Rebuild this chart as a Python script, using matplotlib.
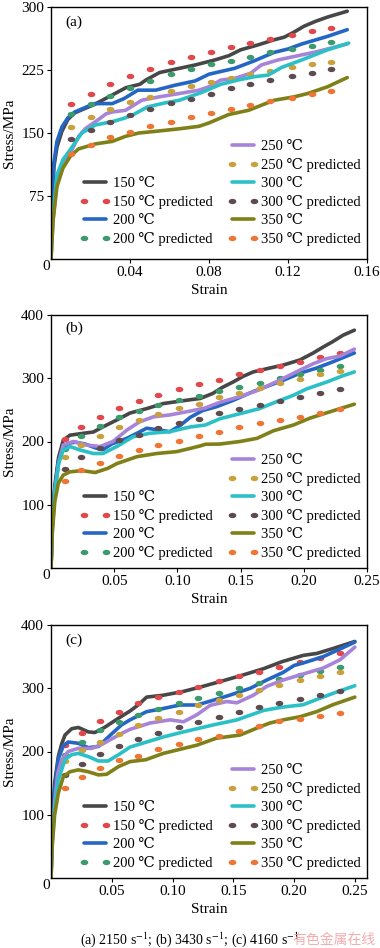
import matplotlib
matplotlib.use('Agg')
import matplotlib.pyplot as plt
from matplotlib.path import Path
from matplotlib.transforms import Affine2D

plt.rcParams['font.family'] = ['Liberation Serif', 'DejaVu Serif']
plt.rcParams['mathtext.fontset'] = 'stix'

TEMPS = ['150', '200', '250', '300', '350']
EXP_COLORS = ['#474747', '#2466c4', '#a784d8', '#2bc0c6', '#808018']
PRED_COLORS = ['#e0484b', '#3b9b6d', '#c9a13c', '#5d4b4f', '#ef7535']

# (a) 2150 s-1 : measured curves
a150_eps = [0, 0.0005, 0.0015, 0.003, 0.0055, 0.0085, 0.012, 0.017, 0.022, 0.03, 0.038, 0.045, 0.048,
            0.055, 0.065, 0.073, 0.083, 0.09, 0.096, 0.105, 0.113, 0.118, 0.123, 0.128, 0.134, 0.14, 0.15]
a150_sig = [0, 70, 110, 133, 152, 166, 174, 179, 184, 194, 204, 208, 213,
            222, 227, 231, 237, 242, 249, 255, 261, 264, 270, 277, 283, 288, 295]
a200_eps = [0, 0.0005, 0.0015, 0.003, 0.0055, 0.0085, 0.012, 0.017, 0.022, 0.031, 0.037, 0.044, 0.053,
            0.063, 0.073, 0.08, 0.093, 0.103, 0.113, 0.12, 0.127, 0.14, 0.15]
a200_sig = [0, 75, 115, 140, 157, 168, 175, 180, 185, 185, 191, 201, 201,
            207, 212, 220, 227, 236, 246, 250, 256, 265, 273]
a250_eps = [0, 0.001, 0.003, 0.006, 0.0097, 0.014, 0.0173, 0.024, 0.028, 0.031, 0.0377, 0.046, 0.0547,
            0.065, 0.075, 0.08, 0.086, 0.093, 0.101, 0.1065, 0.115, 0.127, 0.135, 0.15]
a250_sig = [0, 45, 92, 112, 126, 146, 155, 166, 173, 175, 177, 189, 193,
            197, 201, 205, 213, 215, 221, 231, 237, 243, 247, 256]
a300_eps = [0, 0.001, 0.003, 0.006, 0.0097, 0.0156, 0.0224, 0.031, 0.037, 0.041, 0.0488, 0.058, 0.065,
            0.076, 0.086, 0.0946, 0.103, 0.11, 0.1167, 0.127, 0.14, 0.1507]
a300_sig = [0, 50, 100, 118, 130, 150, 159.5, 163.5, 167.5, 171, 181, 186, 189,
            198, 208, 213, 217, 219, 228, 237, 249, 257]
a350_eps = [0, 0.001, 0.003, 0.006, 0.0097, 0.0139, 0.0224, 0.031, 0.0377, 0.0445, 0.053, 0.065, 0.075,
            0.08, 0.09, 0.1, 0.113, 0.123, 0.13, 0.14, 0.15]
a350_sig = [0, 45, 86, 108, 122, 131, 137, 140, 146, 150, 152, 155, 158,
            162, 172, 177, 189, 193, 197, 205, 216]

# (a) predicted points
a_pred_eps = [0.010, 0.020, 0.030, 0.040, 0.050, 0.061, 0.071, 0.081, 0.091, 0.101, 0.111, 0.122, 0.132, 0.142]
a_p150 = [184, 196, 208, 218, 226, 234, 240, 246, 252, 257, 262, 267, 271, 275]
a_p200 = [172.6, 184.5, 194, 204, 212, 220, 226, 232, 236, 241, 246, 250, 254, 258]
a_p250 = [157.5, 169, 178, 186.5, 193, 200, 206, 211, 216, 220, 224, 228, 232, 235]
a_p300 = [142.5, 154, 163.5, 171.5, 179, 186, 191, 197, 203, 208, 213, 218, 222, 226]
a_p350 = [125, 136, 145, 151.5, 158, 163.5, 169.5, 174, 179, 183, 188, 192, 196, 200]

# (b) 3430 s-1 : measured curves
b150_eps = [0, 0.001, 0.003, 0.006, 0.0097, 0.015, 0.0256, 0.0335, 0.041, 0.052, 0.0625, 0.0757, 0.0888,
            0.0994, 0.11, 0.118, 0.128, 0.136, 0.144, 0.152, 0.16, 0.1706, 0.184, 0.197, 0.2075, 0.215,
            0.223, 0.231, 0.24]
b150_sig = [0, 70, 130, 175, 202, 210, 213, 215, 223, 234, 245, 252, 260,
            263, 266, 268, 276, 286, 294, 303, 310, 315, 321, 329, 340, 349,
            358, 368, 376]
b200_eps = [0, 0.001, 0.003, 0.006, 0.0097, 0.0137, 0.019, 0.027, 0.035, 0.041, 0.048, 0.06, 0.069,
            0.0757, 0.086, 0.094, 0.102, 0.11, 0.12, 0.131, 0.144, 0.16, 0.1706, 0.184, 0.197, 0.21,
            0.223, 0.24]
b200_sig = [0, 65, 125, 170, 190, 197, 199, 196, 190, 187, 196, 205, 214,
            221, 218, 215.5, 225, 238, 249, 255, 265, 279, 287, 297, 308, 316,
            326, 340]
b250_eps = [0, 0.001, 0.003, 0.006, 0.0097, 0.0176, 0.028, 0.0388, 0.049, 0.06, 0.07, 0.081, 0.094,
            0.11, 0.122, 0.1337, 0.1495, 0.165, 0.181, 0.197, 0.2075, 0.218, 0.2286, 0.24]
b250_sig = [0, 60, 120, 165, 194.5, 200, 194.5, 192, 200, 218, 231, 239, 242,
            248, 253, 262, 271, 282, 297, 313, 323, 331, 335, 346]
b300_eps = [0, 0.001, 0.003, 0.006, 0.0097, 0.015, 0.023, 0.0335, 0.041, 0.052, 0.065, 0.078, 0.094,
            0.11, 0.122, 0.1337, 0.1495, 0.165, 0.1785, 0.1917, 0.202, 0.218, 0.231, 0.24]
b300_sig = [0, 60, 120, 165, 186.6, 192, 186.6, 181, 181, 192, 207.5, 213, 215.5,
            223, 226, 236, 244, 252, 263, 273, 283, 294, 304, 310]
b350_eps = [0, 0.001, 0.003, 0.0058, 0.0097, 0.015, 0.0243, 0.035, 0.045, 0.052, 0.068, 0.0836, 0.0994,
            0.11, 0.118, 0.122, 0.1337, 0.1495, 0.163, 0.176, 0.1917, 0.205, 0.2207, 0.24]
b350_sig = [0, 55, 105, 134, 147, 152, 154, 151, 157.6, 165, 176, 181, 184,
            189, 193, 195.6, 196, 200, 205, 217, 226, 237, 247, 259]

# (b) predicted points
b_pred_eps = [0.011, 0.024, 0.039, 0.054, 0.070, 0.085, 0.101, 0.117, 0.133, 0.149, 0.165, 0.181, 0.197, 0.213, 0.229]
b_p150 = [203.5, 222.5, 238, 252.5, 264.5, 273.5, 282.5, 291, 298, 306.5, 313, 319.5, 326, 333, 339.5]
b_p200 = [188, 208.7, 224.5, 239, 248.7, 257.7, 265.6, 272, 280, 286.7, 293, 300, 306.7, 313, 319.4]
b_p250 = [175, 194, 208.7, 222.5, 234, 243.5, 252.5, 259, 270, 277, 284, 292, 299, 306, 312]
b_p300 = [156, 176, 190, 202, 210, 221, 229, 235, 244.6, 251.4, 257.7, 264.5, 270.8, 277, 283]
b_p350 = [138, 155, 166.5, 177.6, 186.6, 194.5, 201, 208.7, 215.5, 222.5, 228.8, 234, 239, 244.6, 251]

# (c) 4160 s-1 : measured curves
c150_eps = [0, 0.001, 0.003, 0.006, 0.0088, 0.0115, 0.017, 0.0225, 0.0307, 0.036, 0.044, 0.055, 0.065,
            0.072, 0.0787, 0.0924, 0.109, 0.125, 0.1418, 0.158, 0.175, 0.19, 0.2076, 0.2186, 0.2323, 0.25]
c150_sig = [0, 80, 150, 192, 212, 226, 236, 238, 231, 230, 238, 252, 264,
            274, 286, 289, 295, 303, 312, 321, 331, 342, 352, 355, 363, 374]
c200_eps = [0, 0.001, 0.003, 0.006, 0.0101, 0.0142, 0.0225, 0.0307, 0.039, 0.05, 0.058, 0.065, 0.0787,
            0.0924, 0.106, 0.12, 0.1335, 0.147, 0.164, 0.1775, 0.191, 0.2, 0.2076, 0.224, 0.2378, 0.25]
c200_sig = [0, 75, 140, 188, 209, 215, 213, 206, 208, 228, 242, 250, 263,
            268, 273.5, 273.5, 281, 289, 300, 313, 325, 336, 340, 350, 362, 373]
c250_eps = [0, 0.001, 0.003, 0.0055, 0.0088, 0.0142, 0.0225, 0.0335, 0.0417, 0.05, 0.0576, 0.065, 0.0815,
            0.098, 0.109, 0.12, 0.131, 0.1446, 0.153, 0.1665, 0.1775, 0.191, 0.21, 0.224, 0.2378, 0.25]
c250_sig = [0, 60, 120, 165, 187, 200, 205, 205, 211, 220, 228, 235, 245,
            250, 247, 258, 273, 279, 277, 289, 303, 313, 324, 332, 345, 365]
c300_eps = [0, 0.001, 0.003, 0.006, 0.0115, 0.017, 0.0225, 0.0307, 0.039, 0.047, 0.0565, 0.065, 0.0924,
            0.109, 0.1335, 0.153, 0.175, 0.19, 0.2076, 0.221, 0.235, 0.25]
c300_sig = [0, 55, 110, 155, 187, 195, 197, 192, 185, 185, 196, 207, 223,
            231, 242, 250, 265, 270, 274, 284, 294, 304]
c350_eps = [0, 0.001, 0.003, 0.006, 0.0101, 0.0156, 0.0225, 0.0307, 0.039, 0.0458, 0.0554, 0.065, 0.078,
            0.0924, 0.12, 0.136, 0.1555, 0.172, 0.18, 0.191, 0.2049, 0.2186, 0.232, 0.25]
c350_sig = [0, 50, 100, 134, 160, 168, 171, 168, 163, 164, 176, 184, 187,
            197, 210, 221, 226, 239, 245, 250, 255, 263, 274, 286]

# (c) predicted points
c_pred_eps = [0.0115, 0.0253, 0.0403, 0.056, 0.0718, 0.0883, 0.105, 0.121, 0.1385, 0.155, 0.171, 0.188, 0.205, 0.221, 0.238]
c_p150 = [210, 230, 248, 263, 276, 286.6, 294.5, 302.5, 311.5, 319.4, 326, 334, 341, 348, 356]
c_p200 = [195, 215.5, 234, 247, 257.7, 266.7, 276, 284, 292, 300, 308, 314, 321, 328, 334]
c_p250 = [185, 202, 215.5, 228, 242, 252.5, 263, 273.5, 281.4, 289, 297, 305, 313, 319.4, 326]
c_p300 = [163, 181, 196, 208.7, 219.8, 229.7, 238, 247, 255, 263, 270, 277, 283.5, 290, 296]
c_p350 = [142, 160, 174.4, 186.6, 193, 203.5, 211.4, 219, 224.5, 232.4, 240, 248, 252, 256, 261]

# flattened ellipse used for the predicted points
DOT = Path.unit_circle().transformed(Affine2D().scale(1.0, 0.7))


def panel(ax, exp, pred_eps, pred, xmax, xticks, xlabels, ymax, yticks, tag, tag_y, leg_y):
    for i in range(5):
        ax.plot(exp[i][0], exp[i][1], color=EXP_COLORS[i], lw=2.6,
                solid_capstyle='round', solid_joinstyle='round',
                label=TEMPS[i] + ' ℃')
        ax.plot(pred_eps, pred[i], ls='none', marker=DOT, ms=5.5, mew=0,
                color=PRED_COLORS[i], label=TEMPS[i] + ' ℃ predicted')
    ax.set_xlim(0, xmax)
    ax.set_ylim(0, ymax)
    ax.set_xticks(xticks)
    ax.set_xticklabels(xlabels)
    ax.set_yticks(yticks)
    ax.tick_params(direction='out', length=3, width=0.8, labelsize=11, pad=2)
    for s in ax.spines.values():
        s.set_linewidth(1.0)
    ax.text(-0.016, -0.03, '0', transform=ax.transAxes, ha='center', va='center', fontsize=11)
    ax.text(0.044, tag_y, tag, transform=ax.transAxes, ha='left', va='center', fontsize=11)
    ax.set_ylabel('Stress/MPa', fontsize=11)
    ax.yaxis.set_label_coords(-0.112, 0.5)
    ax.set_xlabel('Strain', fontsize=11)
    ax.xaxis.set_label_coords(0.5, -0.10)

    h, l = ax.get_legend_handles_labels()
    opts = dict(frameon=False, fontsize=10.5, handlelength=2.1, handletextpad=0.15,
                labelspacing=0.34, borderpad=0, borderaxespad=0, numpoints=2, loc='lower left')
    leg1 = ax.legend(h[:4], l[:4], bbox_to_anchor=(0.092, leg_y), **opts)
    ax.add_artist(leg1)
    ax.legend(h[4:], l[4:], bbox_to_anchor=(0.56, leg_y), **opts)


fig = plt.figure(figsize=(3.8, 9.48), dpi=100)
ax_a = fig.add_axes([51 / 380, 689 / 948, 316 / 380, 252 / 948])
ax_b = fig.add_axes([51 / 380, 380 / 948, 316 / 380, 253 / 948])
ax_c = fig.add_axes([51 / 380, 70 / 948, 316 / 380, 253 / 948])

panel(ax_a,
      [(a150_eps, a150_sig), (a200_eps, a200_sig), (a250_eps, a250_sig),
       (a300_eps, a300_sig), (a350_eps, a350_sig)],
      a_pred_eps, [a_p150, a_p200, a_p250, a_p300, a_p350],
      0.16, [0.04, 0.08, 0.12, 0.16], ['0.04', '0.08', '0.12', '0.16'],
      300, [75, 150, 225, 300], '(a)', 0.94, 0.05)
panel(ax_b,
      [(b150_eps, b150_sig), (b200_eps, b200_sig), (b250_eps, b250_sig),
       (b300_eps, b300_sig), (b350_eps, b350_sig)],
      b_pred_eps, [b_p150, b_p200, b_p250, b_p300, b_p350],
      0.25, [0.05, 0.10, 0.15, 0.20, 0.25], ['0.05', '0.10', '0.15', '0.20', '0.25'],
      400, [100, 200, 300, 400], '(b)', 0.947, 0.032)
panel(ax_c,
      [(c150_eps, c150_sig), (c200_eps, c200_sig), (c250_eps, c250_sig),
       (c300_eps, c300_sig), (c350_eps, c350_sig)],
      c_pred_eps, [c_p150, c_p200, c_p250, c_p300, c_p350],
      0.26, [0.05, 0.10, 0.15, 0.20, 0.25], ['0.05', '0.10', '0.15', '0.20', '0.25'],
      400, [100, 200, 300, 400], '(c)', 0.94, 0.032)

fig.text(0.5, 1 - 940 / 948, r'(a) 2150 s$^{-1}$; (b) 3430 s$^{-1}$; (c) 4160 s$^{-1}$',
         ha='center', va='center', fontsize=10)
fig.text(334 / 380, 1 - 940 / 948, '有色金属在线', color='#f3a3a6', fontsize=10,
         family=['Noto Sans CJK SC'], ha='center', va='center', alpha=0.9)

fig.savefig('out.png', dpi=100)
